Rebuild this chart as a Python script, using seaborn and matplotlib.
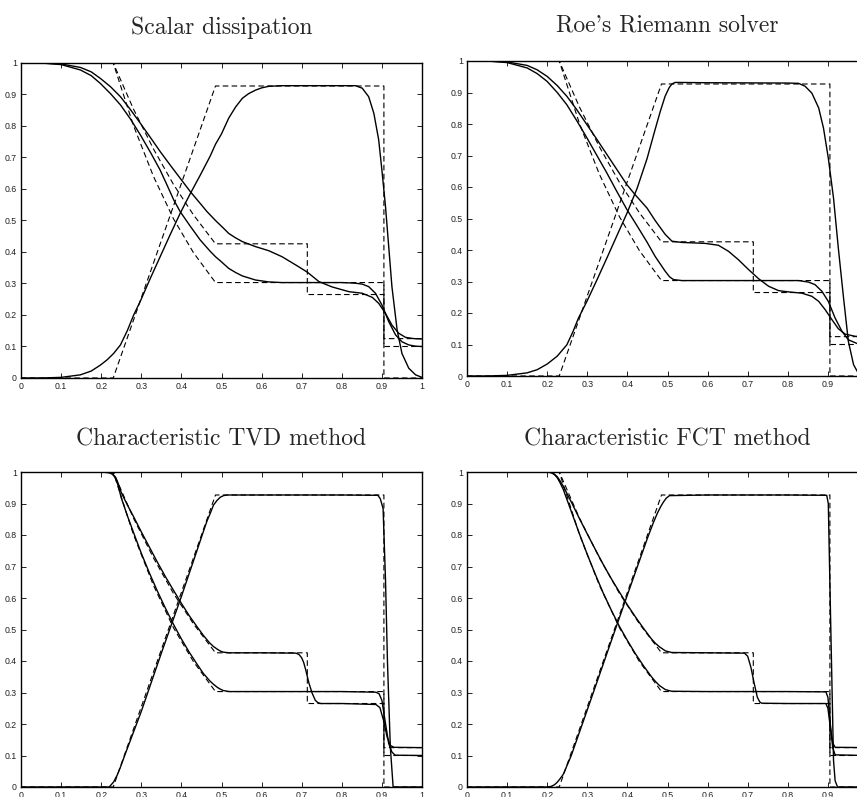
import matplotlib
matplotlib.use('Agg')
import matplotlib.pyplot as plt
import seaborn as sns

# exact Sod solution (dashed), same in every panel
exact_rho_x = [0, 0.23, 0.28, 0.33, 0.38, 0.43, 0.485, 0.714, 0.714, 0.905, 0.905, 1.0]
exact_rho = [1, 1, 0.855, 0.728, 0.615, 0.518, 0.426, 0.426, 0.265, 0.265, 0.125, 0.125]
exact_p_x = [0, 0.23, 0.28, 0.33, 0.38, 0.43, 0.485, 0.905, 0.905, 1.0]
exact_p = [1, 1, 0.803, 0.641, 0.506, 0.398, 0.303, 0.303, 0.1, 0.1]
exact_u_x = [0, 0.23, 0.485, 0.905, 0.905, 1.0]
exact_u = [0, 0, 0.927, 0.927, 0, 0]

# Scalar dissipation
sd_rho_x = [0, 0.05, 0.1, 0.148, 0.175, 0.198, 0.223, 0.248, 0.273, 0.298, 0.323, 0.347,
            0.372, 0.397, 0.422, 0.447, 0.464, 0.485, 0.503, 0.518, 0.535, 0.552, 0.585,
            0.618, 0.651, 0.685, 0.714, 0.743, 0.776, 0.818, 0.851, 0.876, 0.892, 0.909,
            0.925, 0.942, 0.959, 0.98, 1.0]
sd_rho = [1, 1, 0.997, 0.986, 0.972, 0.951, 0.925, 0.893, 0.852, 0.808, 0.763, 0.719,
          0.676, 0.634, 0.592, 0.554, 0.528, 0.500, 0.478, 0.459, 0.445, 0.433, 0.417,
          0.404, 0.385, 0.359, 0.336, 0.306, 0.289, 0.274, 0.269, 0.256, 0.237, 0.205,
          0.168, 0.142, 0.129, 0.125, 0.124]
sd_p_x = [0, 0.05, 0.1, 0.148, 0.175, 0.198, 0.223, 0.248, 0.273, 0.298, 0.323, 0.347,
          0.364, 0.381, 0.397, 0.422, 0.447, 0.472, 0.485, 0.497, 0.518, 0.535, 0.552,
          0.585, 0.618, 0.651, 0.8, 0.834, 0.851, 0.867, 0.884, 0.9, 0.917, 0.934, 0.95,
          0.967, 0.984, 1.0]
sd_p = [1, 1, 0.995, 0.978, 0.960, 0.935, 0.903, 0.867, 0.822, 0.771, 0.716, 0.660,
        0.613, 0.565, 0.528, 0.482, 0.438, 0.402, 0.385, 0.372, 0.348, 0.335, 0.324,
        0.311, 0.305, 0.303, 0.303, 0.301, 0.298, 0.290, 0.269, 0.232, 0.179, 0.137,
        0.115, 0.105, 0.101, 0.100]
sd_u_x = [0, 0.05, 0.1, 0.148, 0.175, 0.198, 0.215, 0.231, 0.248, 0.265, 0.281, 0.298,
          0.322, 0.347, 0.372, 0.397, 0.422, 0.447, 0.472, 0.485, 0.5, 0.518, 0.535,
          0.552, 0.568, 0.585, 0.6, 0.618, 0.65, 0.834, 0.851, 0.867, 0.88, 0.892, 0.9,
          0.909, 0.917, 0.925, 0.938, 0.95, 0.967, 0.984, 1.0]
sd_u = [0, 0, 0.002, 0.010, 0.022, 0.041, 0.058, 0.078, 0.105, 0.150, 0.200, 0.245,
        0.315, 0.385, 0.455, 0.523, 0.585, 0.644, 0.705, 0.742, 0.775, 0.825, 0.860,
        0.888, 0.903, 0.914, 0.921, 0.926, 0.928, 0.928, 0.920, 0.893, 0.840, 0.756,
        0.660, 0.544, 0.417, 0.290, 0.152, 0.078, 0.031, 0.010, 0.002]

# Roe's Riemann solver
roe_rho_x = [0, 0.05, 0.1, 0.15, 0.175, 0.2, 0.225, 0.249, 0.274, 0.299, 0.324, 0.349,
             0.374, 0.399, 0.419, 0.449, 0.469, 0.494, 0.511, 0.536, 0.594, 0.627, 0.652,
             0.677, 0.702, 0.727, 0.752, 0.777, 0.802, 0.835, 0.86, 0.877, 0.893, 0.91,
             0.926, 0.943, 0.968, 1.0]
roe_rho = [1, 1, 0.997, 0.986, 0.972, 0.951, 0.922, 0.888, 0.845, 0.798, 0.751, 0.703,
           0.655, 0.607, 0.576, 0.533, 0.494, 0.450, 0.428, 0.424, 0.421, 0.415, 0.396,
           0.369, 0.338, 0.309, 0.285, 0.271, 0.267, 0.263, 0.253, 0.237, 0.211, 0.179,
           0.150, 0.133, 0.126, 0.125]
roe_p_x = [0, 0.05, 0.1, 0.15, 0.175, 0.2, 0.225, 0.249, 0.274, 0.299, 0.324, 0.349,
           0.374, 0.399, 0.424, 0.449, 0.469, 0.494, 0.505, 0.515, 0.536, 0.827, 0.852,
           0.868, 0.885, 0.901, 0.918, 0.935, 0.951, 0.973, 1.0]
roe_p = [1, 1, 0.995, 0.978, 0.960, 0.935, 0.900, 0.861, 0.810, 0.756, 0.700, 0.644,
         0.585, 0.528, 0.477, 0.425, 0.380, 0.333, 0.315, 0.306, 0.303, 0.303, 0.298,
         0.290, 0.269, 0.237, 0.184, 0.142, 0.115, 0.103, 0.100]
roe_u_x = [0, 0.05, 0.1, 0.15, 0.175, 0.2, 0.225, 0.249, 0.264, 0.278, 0.299, 0.324,
           0.349, 0.374, 0.399, 0.424, 0.449, 0.469, 0.482, 0.494, 0.504, 0.511, 0.519,
           0.6, 0.802, 0.827, 0.843, 0.86, 0.877, 0.889, 0.901, 0.914, 0.926, 0.939,
           0.951, 0.964, 0.973, 0.985, 1.0]
roe_u = [0, 0, 0.002, 0.010, 0.020, 0.038, 0.063, 0.099, 0.140, 0.184, 0.237, 0.305,
         0.375, 0.446, 0.517, 0.595, 0.690, 0.782, 0.840, 0.888, 0.915, 0.927, 0.932,
         0.931, 0.930, 0.929, 0.920, 0.898, 0.851, 0.787, 0.692, 0.565, 0.406, 0.248,
         0.110, 0.036, 0.015, 0.004, 0]

# Characteristic TVD method
tvd_rho_x = [0, 0.1, 0.2, 0.22, 0.228, 0.235, 0.242, 0.25, 0.265, 0.28, 0.3, 0.32, 0.34,
             0.36, 0.38, 0.4, 0.42, 0.44, 0.455, 0.47, 0.48, 0.49, 0.498, 0.505, 0.52,
             0.6, 0.685, 0.693, 0.7, 0.705, 0.71, 0.718, 0.726, 0.734, 0.74, 0.748, 0.8,
             0.885, 0.895, 0.904, 0.913, 0.921, 0.93, 1.0]
tvd_rho = [1, 1, 1, 0.998, 0.994, 0.985, 0.965, 0.935, 0.896, 0.860, 0.810, 0.762,
           0.714, 0.668, 0.625, 0.583, 0.543, 0.507, 0.481, 0.458, 0.446, 0.437, 0.431,
           0.428, 0.426, 0.426, 0.425, 0.421, 0.410, 0.395, 0.372, 0.330, 0.298, 0.275,
           0.268, 0.265, 0.265, 0.262, 0.252, 0.212, 0.159, 0.132, 0.126, 0.125]
tvd_p_x = [0, 0.1, 0.2, 0.22, 0.228, 0.235, 0.242, 0.25, 0.265, 0.28, 0.3, 0.32, 0.34,
           0.36, 0.38, 0.4, 0.42, 0.44, 0.455, 0.47, 0.48, 0.49, 0.498, 0.505, 0.52,
           0.6, 0.8, 0.885, 0.893, 0.9, 0.909, 0.917, 0.925, 0.933, 1.0]
tvd_p = [1, 1, 1, 0.998, 0.993, 0.982, 0.958, 0.918, 0.862, 0.810, 0.742, 0.680, 0.622,
         0.568, 0.517, 0.470, 0.427, 0.388, 0.360, 0.338, 0.326, 0.316, 0.310, 0.306,
         0.303, 0.303, 0.303, 0.301, 0.296, 0.275, 0.201, 0.138, 0.111, 0.101, 0.100]
tvd_u_x = [0, 0.1, 0.2, 0.22, 0.231, 0.24, 0.248, 0.26, 0.3, 0.35, 0.4, 0.44, 0.455,
           0.464, 0.473, 0.48, 0.489, 0.497, 0.505, 0.514, 0.6, 0.8, 0.89, 0.896, 0.903,
           0.909, 0.914, 0.921, 0.928, 1.0]
tvd_u = [0, 0, 0, 0, 0.016, 0.038, 0.063, 0.105, 0.240, 0.425, 0.605, 0.755, 0.812,
         0.845, 0.872, 0.895, 0.910, 0.920, 0.925, 0.927, 0.927, 0.927, 0.926, 0.915,
         0.884, 0.656, 0.392, 0.127, 0.0, 0.0]

# Characteristic FCT method
fct_rho_x = [0, 0.1, 0.2, 0.21, 0.218, 0.225, 0.232, 0.24, 0.26, 0.28, 0.3, 0.32, 0.34,
             0.36, 0.38, 0.4, 0.42, 0.44, 0.46, 0.47, 0.48, 0.488, 0.495, 0.51, 0.6,
             0.692, 0.7, 0.708, 0.716, 0.724, 0.73, 0.735, 0.8, 0.895, 0.9, 0.906, 0.912,
             0.918, 1.0]
fct_rho = [1, 1, 1, 0.998, 0.993, 0.985, 0.972, 0.955, 0.905, 0.853, 0.803, 0.754,
           0.706, 0.661, 0.619, 0.578, 0.540, 0.504, 0.470, 0.456, 0.445, 0.438, 0.432,
           0.427, 0.426, 0.425, 0.415, 0.380, 0.330, 0.285, 0.270, 0.266, 0.265, 0.265,
           0.250, 0.190, 0.140, 0.126, 0.125]
fct_p_x = [0, 0.1, 0.2, 0.21, 0.218, 0.225, 0.232, 0.24, 0.26, 0.28, 0.3, 0.32, 0.34,
           0.36, 0.38, 0.4, 0.42, 0.44, 0.46, 0.47, 0.48, 0.488, 0.495, 0.51, 0.6, 0.8,
           0.895, 0.9, 0.906, 0.912, 0.918, 1.0]
fct_p = [1, 1, 1, 0.998, 0.992, 0.982, 0.966, 0.945, 0.875, 0.805, 0.738, 0.675, 0.615,
         0.561, 0.510, 0.465, 0.423, 0.385, 0.350, 0.335, 0.322, 0.315, 0.309, 0.304,
         0.303, 0.303, 0.302, 0.285, 0.200, 0.125, 0.102, 0.100]
fct_u_x = [0, 0.1, 0.2, 0.21, 0.218, 0.225, 0.232, 0.24, 0.26, 0.3, 0.35, 0.4, 0.45,
           0.465, 0.475, 0.483, 0.49, 0.497, 0.505, 0.6, 0.8, 0.897, 0.901, 0.906,
           0.914, 0.918, 0.924, 1.0]
fct_u = [0, 0, 0, 0.002, 0.007, 0.015, 0.026, 0.040, 0.100, 0.245, 0.428, 0.610, 0.790,
         0.840, 0.870, 0.890, 0.905, 0.917, 0.925, 0.927, 0.927, 0.926, 0.900, 0.580,
         0.085, 0.020, 0.0, 0.0]

titles = ['Scalar dissipation', "Roe's Riemann solver",
          'Characteristic TVD method', 'Characteristic FCT method']
ticks = [0, 0.1, 0.2, 0.3, 0.4, 0.5, 0.6, 0.7, 0.8, 0.9, 1.0]
tick_labels = ['0', '0.1', '0.2', '0.3', '0.4', '0.5', '0.6', '0.7', '0.8', '0.9', '1']

panels = [
    [(sd_rho_x, sd_rho), (sd_p_x, sd_p), (sd_u_x, sd_u)],
    [(roe_rho_x, roe_rho), (roe_p_x, roe_p), (roe_u_x, roe_u)],
    [(tvd_rho_x, tvd_rho), (tvd_p_x, tvd_p), (tvd_u_x, tvd_u)],
    [(fct_rho_x, fct_rho), (fct_p_x, fct_p), (fct_u_x, fct_u)],
]
exact = [(exact_rho_x, exact_rho), (exact_p_x, exact_p), (exact_u_x, exact_u)]

sns.set_style('ticks')
plt.rcParams['font.family'] = ['Liberation Sans', 'DejaVu Sans']

fig = plt.figure(figsize=(8.57, 7.97), dpi=100)
W, H = 857, 797
# axes boxes in pixels: left, top, width, height (right column runs off the page)
boxes = [(21, 63, 401, 315), (467, 61, 401, 315), (21, 472, 401, 315), (467, 472, 401, 315)]
pads = [21, 21, 19, 19]

for i in range(4):
    l, t, w, h = boxes[i]
    ax = fig.add_axes([l / W, 1 - (t + h) / H, w / W, h / H])
    for xs, ys in exact:
        sns.lineplot(x=xs, y=ys, ax=ax, sort=False, estimator=None, color='k',
                     lw=0.8, linestyle=(0, (5, 3)))
    for xs, ys in panels[i]:
        sns.lineplot(x=xs, y=ys, ax=ax, sort=False, estimator=None, color='k', lw=1.0)
    ax.set_xlim(0, 1)
    ax.set_ylim(0, 1)
    ax.set_xticks(ticks)
    ax.set_xticklabels(tick_labels)
    ax.set_yticks(ticks)
    ax.set_yticklabels(tick_labels)
    ax.tick_params(direction='in', top=True, right=True, length=3.5, width=0.7,
                   labelsize=6.3, pad=3, colors='#222222')
    for s in ax.spines.values():
        s.set_linewidth(1.0)
        s.set_color('k')
    ax.set_xlabel('')
    ax.set_ylabel('')
    ax.set_title(titles[i], fontfamily='cmr10', fontsize=17, pad=pads[i])

fig.savefig('out.png', dpi=100)
